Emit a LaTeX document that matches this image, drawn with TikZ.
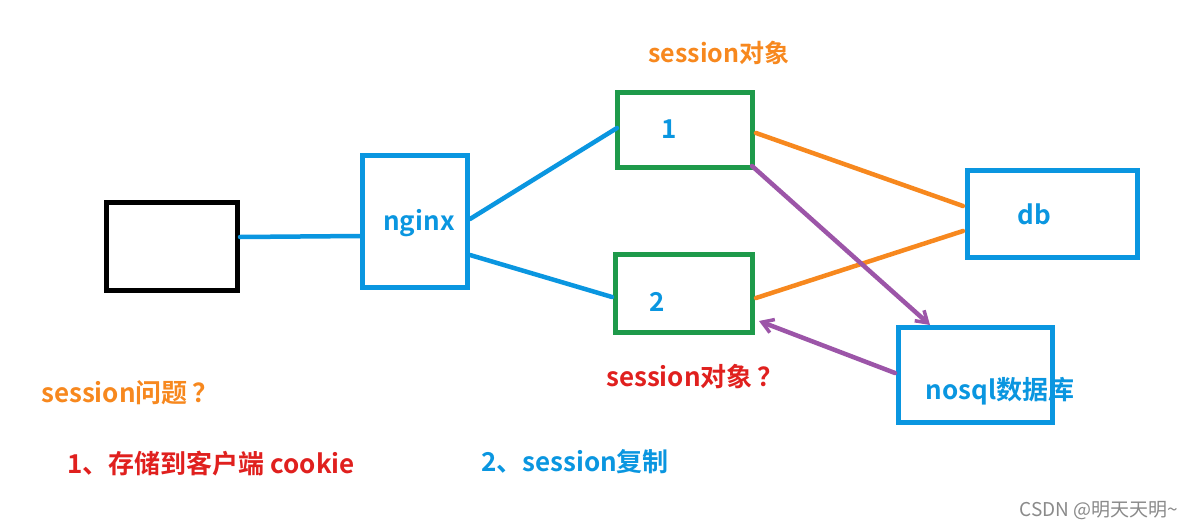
\documentclass[tikz,border=0pt]{standalone}
\usepackage{fontspec}
\setmainfont{Noto Sans CJK SC Bold}
\newfontfamily\wmfont{Noto Sans CJK SC}
\usetikzlibrary{arrows.meta}
\definecolor{cblue}{HTML}{0A96E0}
\definecolor{cgreen}{HTML}{1E9A4A}
\definecolor{corange}{HTML}{F7881E}
\definecolor{cpurple}{HTML}{9C55A8}
\definecolor{cred}{HTML}{E0201E}
\definecolor{cgray}{HTML}{8A8A8A}
\tikzset{
  box/.style={draw=#1, line width=5pt, inner sep=0pt},
  lab/.style={font=\fontsize{26}{28}\selectfont, text=#1, inner sep=0pt},
  conn/.style={draw=#1, line width=4.5pt, line cap=round},
  arr/.style={conn=cpurple, -{Straight Barb[length=11pt,width=14pt,line width=3.5pt]}},
}
\begin{document}
\begin{tikzpicture}[x=1pt,y=-1pt]
\useasboundingbox (0,0) rectangle (1193,530);
\fill[white] (0,0) rectangle (1193,530);
% boxes (centre, size)
\node[box=black, minimum width=131pt, minimum height=88pt] (client) at (172,246.5) {};
\node[box=cblue, minimum width=105pt, minimum height=132pt] (nginx) at (415,221.5) {};
\node[box=cgreen, minimum width=135pt, minimum height=75pt] (s1) at (685,130) {};
\node[box=cgreen, minimum width=137pt, minimum height=78pt] (s2) at (684,293.5) {};
\node[box=cblue, minimum width=170pt, minimum height=87pt] (db) at (1052.5,214) {};
\node[box=cblue, minimum width=154pt, minimum height=95pt] (nosql) at (975.5,375) {};
% coordinates
\coordinate (c1) at (240,237);
\coordinate (n0) at (360,236);
\coordinate (n1) at (470,219);
\coordinate (n2) at (470,255);
\coordinate (s1l) at (617,128);
\coordinate (s2l) at (612,297);
\coordinate (s1r) at (756,133);
\coordinate (s2r) at (756,298);
\coordinate (s1c) at (752,166);
\coordinate (s2a) at (759,321);
\coordinate (d1) at (963,206);
\coordinate (d2) at (963,231);
\coordinate (nt) at (930,325);
\coordinate (nl) at (895,373);
% connectors
\draw[conn=cblue] (c1) -- (n0);
\draw[conn=cblue] (n1) -- (s1l);
\draw[conn=cblue] (n2) -- (s2l);
\draw[conn=corange] (s1r) -- (d1);
\draw[conn=corange] (s2r) -- (d2);
\draw[arr] (s1c) -- (nt);
\draw[arr] (nl) -- (s2a);
% labels
\node[lab=cblue] (tn) at (419,223) {nginx};
\node[lab=cblue] (t1) at (669,129) {1};
\node[lab=cblue] (t2) at (657,302) {2};
\node[lab=cblue] (tdb) at (1034,214) {db};
\node[lab=cblue] (tnq) at (1000,391) {nosql数据库};
\node[lab=corange, font=\fontsize{25}{27}\selectfont] (so1) at (719,53) {session对象};
\node[lab=cred] (so2) at (695,377) {session对象\hspace{5pt}？};
\node[lab=corange] (q) at (130,393) {session问题\hspace{5pt}？};
\node[lab=cred] (a1) at (211,464) {1、存储到客户端 cookie};
\node[lab=cblue] (a2) at (575,462) {2、session复制};
\node[font=\wmfont\fontsize{19}{20}\selectfont, text=cgray, inner sep=0pt] (wm) at (1099,511) {CSDN @明天天明\char`~};
\end{tikzpicture}
\end{document}
